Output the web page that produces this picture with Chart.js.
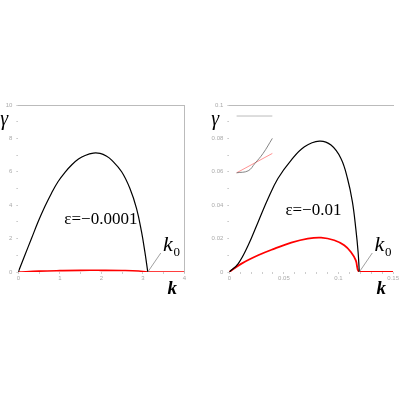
<!DOCTYPE html>
<html>
<head>
<meta charset="utf-8">
<script src="https://cdn.jsdelivr.net/npm/chart.js@4"></script>
<style>
  html, body { margin: 0; padding: 0; background: #fff; }
  body { width: 400px; height: 400px; position: relative; overflow: hidden; }
  .panel { position: absolute; top: 95px; width: 200px; height: 200px; }
  #left { left: 0; }
  #right { left: 200px; }
</style>
</head>
<body>
<div class="panel" id="left"><canvas id="chart-left"></canvas></div>
<div class="panel" id="right"><canvas id="chart-right"></canvas></div>
<script>
// left panel, eps = -0.0001
const kLeftBlack = [0, 0.16, 0.32, 0.48, 0.64, 0.80, 0.96, 1.13, 1.29, 1.45, 1.61, 1.81, 1.97, 2.12, 2.25, 2.49, 2.69, 2.85, 2.97, 3.05, 3.12];
const gammaLeftBlack = [0, 1.02, 2.02, 3.02, 3.92, 4.72, 5.42, 5.98, 6.42, 6.76, 6.98, 7.12, 7.1, 6.95, 6.7, 6.0, 5.0, 3.8, 2.4, 1.2, 0];
const kLeftRed = [0, 0.5, 1, 1.5, 2, 2.5, 2.9, 3.12, 3.5, 4];
const gammaLeftRed = [0, 0.05, 0.08, 0.1, 0.1, 0.09, 0.06, 0, 0, 0];
const k0Left = 3.12;

// right panel, eps = -0.01
const kRightBlack = [0, 0.0082, 0.0173, 0.0264, 0.0355, 0.0445, 0.0567, 0.0688, 0.0825, 0.0931, 0.1022, 0.1082, 0.1127, 0.1158, 0.1179, 0.119];
const gammaRightBlack = [0, 0.005, 0.016, 0.030, 0.044, 0.056, 0.067, 0.075, 0.0784, 0.076, 0.068, 0.056, 0.042, 0.026, 0.012, 0];
const kRightRed = [0, 0.0112, 0.0264, 0.0415, 0.0567, 0.0718, 0.084, 0.0961, 0.1052, 0.1113, 0.1158, 0.119, 0.13, 0.15];
const gammaRightRed = [0, 0.005, 0.010, 0.014, 0.0176, 0.020, 0.0206, 0.019, 0.016, 0.012, 0.007, 0, 0, 0];
const k0Right = 0.119;

// small inset marks in the right panel
const kInsetBlack = [0.0067, 0.0173, 0.0234, 0.0309, 0.0394];
const gammaInsetBlack = [0.0594, 0.0606, 0.065, 0.071, 0.080];
const kInsetRed = [0.0067, 0.0394];
const gammaInsetRed = [0.0594, 0.071];
const kInsetGray = [0.0067, 0.0394];
const gammaInsetGray = [0.0934, 0.0934];

const ticksLeftX = [0, 1, 2, 3, 4];
const ticksLeftY = [0, 2, 4, 6, 8, 10];
const ticksRightX = [0, 0.05, 0.1, 0.15];
const ticksRightY = [0, 0.02, 0.04, 0.06, 0.08, 0.1];

Chart.defaults.font.family = "'Liberation Sans', sans-serif";
Chart.defaults.animation = false;

const SERIF = '"Liberation Serif"';

function pts(xs, ys) {
  return xs.map((x, i) => ({ x: x, y: ys[i] }));
}

function line(xs, ys, color, width, smooth) {
  return {
    data: pts(xs, ys),
    borderColor: color,
    borderWidth: width,
    showLine: true,
    pointRadius: 0,
    tension: smooth ? 0.4 : 0,
    fill: false
  };
}

function labelOnly(list) {
  return v => (list.some(t => Math.abs(t - v) < 1e-9) ? String(v) : "");
}

const panelText = {
  id: "panelText",
  afterDraw(chart, args, opts) {
    const ctx = chart.ctx;
    const x = chart.scales.x;
    const y = chart.scales.y;
    const area = chart.chartArea;
    ctx.save();
    // k0 marker
    const px = x.getPixelForValue(opts.k0);
    const py = y.getPixelForValue(0);
    ctx.strokeStyle = "#888";
    ctx.lineWidth = 0.8;
    ctx.beginPath();
    ctx.moveTo(px, py);
    ctx.lineTo(px + 13, py - 19);
    ctx.stroke();
    ctx.fillStyle = "#000";
    ctx.textAlign = "center";
    ctx.textBaseline = "middle";
    ctx.font = "italic 22px " + SERIF;
    ctx.fillText("k", px + 20, py - 27);
    ctx.font = "13px " + SERIF;
    ctx.fillText("0", px + 29, py - 19);
    // epsilon label
    ctx.font = "17px " + SERIF;
    ctx.fillText(opts.eps, x.getPixelForValue(opts.epsAt[0]), y.getPixelForValue(opts.epsAt[1]));
    // axis titles
    ctx.font = "italic 20px " + SERIF;
    ctx.fillText("γ", area.left - 14, area.top + 15);
    ctx.font = "bold italic 19px " + SERIF;
    ctx.fillText("k", area.right - 12, area.bottom + 17);
    ctx.restore();
  }
};

function makeChart(id, cfg) {
  const tickFont = { size: 6 };
  return new Chart(document.getElementById(id), {
    type: "scatter",
    data: { datasets: cfg.datasets },
    plugins: [panelText],
    options: {
      responsive: true,
      maintainAspectRatio: false,
      layout: { padding: { top: 10, right: cfg.padRight, bottom: 11, left: 0 } },
      plugins: {
        legend: { display: false },
        tooltip: { enabled: false },
        panelText: cfg.text
      },
      scales: {
        x: {
          type: "linear",
          min: 0,
          max: cfg.xMax,
          border: { display: false },
          grid: { drawOnChartArea: false, tickLength: 2, color: "#ccc" },
          ticks: {
            stepSize: cfg.xStep,
            autoSkip: false,
            maxRotation: 0,
            padding: 1,
            color: "#aaa",
            font: tickFont,
            callback: labelOnly(cfg.xLabels)
          },
          afterFit: s => { s.height = 12; }
        },
        y: {
          type: "linear",
          min: 0,
          max: cfg.yMax,
          border: { display: false },
          grid: { drawOnChartArea: false, tickLength: 2, color: "#ccc" },
          ticks: {
            stepSize: cfg.yStep,
            autoSkip: false,
            padding: 4,
            color: "#aaa",
            font: tickFont,
            callback: labelOnly(cfg.yLabels)
          },
          afterFit: s => { s.width = cfg.yWidth; }
        },
        xTop: {
          type: "linear",
          position: "top",
          min: 0,
          max: cfg.xMax,
          border: { display: true, color: "#bbb", width: 1 },
          grid: { display: false },
          ticks: { display: false },
          afterFit: s => { s.height = 0; }
        },
        yRight: {
          type: "linear",
          position: "right",
          display: cfg.rightFrame,
          min: 0,
          max: cfg.yMax,
          border: { display: true, color: "#bbb", width: 1 },
          grid: { display: false },
          ticks: { display: false },
          afterFit: s => { s.width = 0; }
        }
      }
    }
  });
}

makeChart("chart-left", {
  datasets: [
    line(kLeftBlack, gammaLeftBlack, "#000", 1.2, true),
    line(kLeftRed, gammaLeftRed, "#ff0000", 1.6, true)
  ],
  xMax: 4, xStep: 0.5, xLabels: ticksLeftX,
  yMax: 10, yStep: 1, yLabels: ticksLeftY,
  yWidth: 18.3, padRight: 15.7, rightFrame: true,
  text: { k0: k0Left, eps: "ε=−0.0001", epsAt: [1.99, 3.16] }
});

makeChart("chart-right", {
  datasets: [
    line(kInsetGray, gammaInsetGray, "#aaa", 0.8, false),
    line(kInsetBlack, gammaInsetBlack, "#666", 0.8, true),
    line(kInsetRed, gammaInsetRed, "#f77", 0.8, false),
    line(kRightBlack, gammaRightBlack, "#000", 1.2, true),
    line(kRightRed, gammaRightRed, "#ff0000", 1.8, true)
  ],
  xMax: 0.15, xStep: 0.01, xLabels: ticksRightX,
  yMax: 0.1, yStep: 0.01, yLabels: ticksRightY,
  yWidth: 29.3, padRight: 5.7, rightFrame: false,
  text: { k0: k0Right, eps: "ε=−0.01", epsAt: [0.077, 0.037] }
});
</script>
</body>
</html>
